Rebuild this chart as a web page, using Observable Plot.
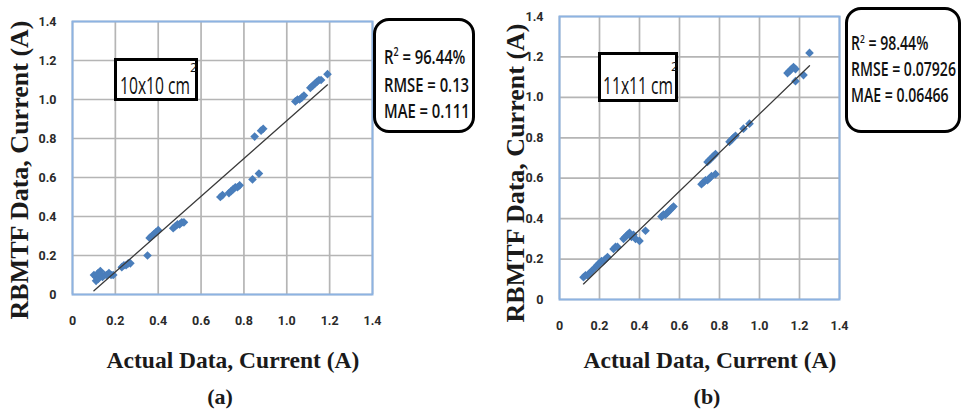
<!DOCTYPE html>
<html>
<head>
<meta charset="utf-8">
<script src="https://cdn.jsdelivr.net/npm/d3@7"></script>
<script src="https://cdn.jsdelivr.net/npm/@observablehq/plot@0.6"></script>
<style>
  html, body { margin: 0; padding: 0; background: #fff; }
  #wrap { position: relative; width: 962px; height: 415px; overflow: hidden; background: #fff; }
  .panel { position: absolute; top: 0; }
  .serif { position: absolute; font-family: "Liberation Serif", "Times New Roman", serif; font-weight: bold; color: #1a1a1a; white-space: nowrap; transform: translate(-50%, -50%); }
  .ylab { transform: translate(-50%, -50%) rotate(-90deg); }
  .box { position: absolute; border: 3px solid #000; background: #fff; box-sizing: border-box;
         font-family: "Open Sans", "DejaVu Sans", sans-serif; color: #111; white-space: nowrap; }
  .stats { border-width: 3.5px; border-radius: 16px; font-weight: 600; }
  .line { position: absolute; left: 0; transform: scaleX(0.74); transform-origin: left center; }
  .narrow { position: absolute; transform: scaleX(0.68); transform-origin: left center; line-height: 1; }
  .up { position: absolute; font-size: 13px; line-height: 1; }
  sup { font-size: 60%; }
</style>
</head>
<body>
<div id="wrap"></div>
<script>
// ---------- data ----------
const tickValues = [0, 0.2, 0.4, 0.6, 0.8, 1.0, 1.2, 1.4];
const tickLabels = ["0", "0.2", "0.4", "0.6", "0.8", "1.0", "1.2", "1.4"];

// Panel (a): 10x10 cm2
const aActual = [0.10,0.11,0.11,0.12,0.12,0.13,0.13,0.14,0.15,0.16,0.17,0.18,0.19,
                 0.23,0.24,0.25,0.26,0.27,
                 0.35,
                 0.36,0.37,0.38,0.39,0.40,
                 0.47,0.48,0.49,0.50,0.51,0.52,
                 0.69,0.70,
                 0.73,0.74,0.75,0.76,0.77,0.78,
                 0.84,0.87,
                 0.85,0.88,0.89,
                 1.04,1.05,1.06,1.07,1.08,
                 1.11,1.12,1.13,1.14,1.15,1.16,
                 1.19];
const aPred   = [0.10,0.09,0.07,0.11,0.08,0.12,0.10,0.09,0.10,0.10,0.11,0.10,0.10,
                 0.14,0.15,0.15,0.16,0.16,
                 0.20,
                 0.29,0.30,0.31,0.32,0.33,
                 0.34,0.35,0.36,0.36,0.37,0.37,
                 0.50,0.51,
                 0.52,0.53,0.54,0.55,0.55,0.56,
                 0.59,0.62,
                 0.81,0.84,0.85,
                 0.99,1.00,1.00,1.01,1.02,
                 1.06,1.07,1.08,1.09,1.10,1.10,
                 1.13];

// Panel (b): 11x11 cm2
const bActual = [0.12,0.13,0.14,0.15,0.16,
                 0.18,0.19,0.20,0.21,0.22,0.23,0.24,
                 0.27,0.28,0.29,
                 0.32,0.33,0.34,0.35,0.36,0.37,0.38,0.40,
                 0.43,
                 0.51,0.52,0.53,0.54,0.55,0.56,0.57,
                 0.71,0.72,0.73,0.74,0.75,0.76,0.78,
                 0.74,0.75,0.76,0.77,0.78,
                 0.85,0.86,0.87,0.88,
                 0.92,0.95,
                 1.14,1.15,1.16,1.17,1.18,
                 1.18,1.22,
                 1.25];
const bPred   = [0.11,0.12,0.12,0.13,0.14,
                 0.16,0.17,0.18,0.19,0.19,0.20,0.21,
                 0.25,0.26,0.26,
                 0.30,0.31,0.32,0.33,0.31,0.32,0.30,0.29,
                 0.34,
                 0.41,0.42,0.42,0.43,0.44,0.45,0.46,
                 0.57,0.58,0.59,0.59,0.60,0.61,0.62,
                 0.68,0.69,0.70,0.71,0.72,
                 0.78,0.79,0.80,0.81,
                 0.845,0.87,
                 1.12,1.13,1.14,1.15,1.14,
                 1.08,1.11,
                 1.22];

const panels = [
  {left: 0,   width: 480, mL: 72, mR: 108, mT: 21, mB: 51, actual: aActual, pred: aPred},
  {left: 480, width: 482, mL: 79, mR: 123, mT: 16, mB: 46, actual: bActual, pred: bPred}
];

const wrap = document.getElementById("wrap");
const tickFont = 'Roboto, "DejaVu Sans", sans-serif';

for (const p of panels) {
  const data = p.actual.map((x, i) => ({x, y: p.pred[i]}));
  const chart = Plot.plot({
    width: p.width,
    height: 345,
    marginLeft: p.mL, marginRight: p.mR, marginTop: p.mT, marginBottom: p.mB,
    style: {fontFamily: tickFont, fontSize: "12.5px", fontWeight: "bold", color: "#2a2a2a", background: "transparent", overflow: "visible"},
    x: {domain: [0, 1.4], axis: null},
    y: {domain: [0, 1.4], axis: null},
    marks: [
      Plot.ruleX(tickValues, {stroke: "#b5b5b5", strokeWidth: 1.7, strokeOpacity: 1}),
      Plot.ruleY(tickValues, {stroke: "#b5b5b5", strokeWidth: 1.7, strokeOpacity: 1}),
      Plot.frame({stroke: "#8db3e2", strokeWidth: 2}),
      Plot.axisX(tickValues, {tickSize: 0, tickPadding: 22, fontSize: 12.5, tickFormat: d => tickLabels[tickValues.indexOf(d)], label: null}),
      Plot.axisY(tickValues, {tickSize: 0, tickPadding: 16, fontSize: 12.5, tickFormat: d => tickLabels[tickValues.indexOf(d)], label: null}),
      Plot.dot(data, {x: "x", y: "y", symbol: "diamond2", r: 3.9, fill: "#4a7ebb", stroke: "none"}),
      Plot.linearRegressionY(data, {x: "x", y: "y", stroke: "#3a3a3a", strokeWidth: 1.3, ci: 0})
    ]
  });
  chart.classList.add("panel");
  chart.style.left = p.left + "px";
  wrap.appendChild(chart);
}

function addHTML(html) { wrap.insertAdjacentHTML("beforeend", html); }

// Axis titles
addHTML('<div class="serif" style="left:233px;top:360px;font-size:23.5px">Actual Data, Current (A)</div>');
addHTML('<div class="serif" style="left:710px;top:360px;font-size:23.5px">Actual Data, Current (A)</div>');
addHTML('<div class="serif ylab" style="left:20px;top:170px;font-size:26px">RBMTF Data, Current (A)</div>');
addHTML('<div class="serif ylab" style="left:516px;top:173px;font-size:26px">RBMTF Data, Current (A)</div>');
addHTML('<div class="serif" style="left:220px;top:397px;font-size:22px">(a)</div>');
addHTML('<div class="serif" style="left:707px;top:397px;font-size:22px">(b)</div>');

// Label boxes
addHTML('<div class="box" style="left:114px;top:58px;width:84px;height:43px;font-size:23px;">' +
        '<span class="narrow" style="left:3px;top:13px">10x10 cm</span>' +
        '<span class="up" style="left:73px;top:0px">2</span></div>');
addHTML('<div class="box" style="left:598px;top:52px;width:80px;height:50px;font-size:23px;">' +
        '<span class="narrow" style="left:2px;top:19px">11x11 cm</span>' +
        '<span class="up" style="left:70px;top:5px">2</span></div>');

// Stats boxes
addHTML('<div class="box stats" style="left:373px;top:18px;width:102px;height:115px;font-size:20px;">' +
        '<div class="line" style="left:8px;top:22px">R<sup>2</sup> = 96.44%</div>' +
        '<div class="line" style="left:8px;top:50px">RMSE = 0.13</div>' +
        '<div class="line" style="left:8px;top:76px">MAE = 0.111</div></div>');
addHTML('<div class="box stats" style="left:845px;top:7px;width:116px;height:126px;font-size:19px;">' +
        '<div class="line" style="left:3px;top:20px">R<sup>2</sup> = 98.44%</div>' +
        '<div class="line" style="left:3px;top:46px">RMSE = 0.07926</div>' +
        '<div class="line" style="left:3px;top:72px">MAE = 0.06466</div></div>');
</script>
</body>
</html>
